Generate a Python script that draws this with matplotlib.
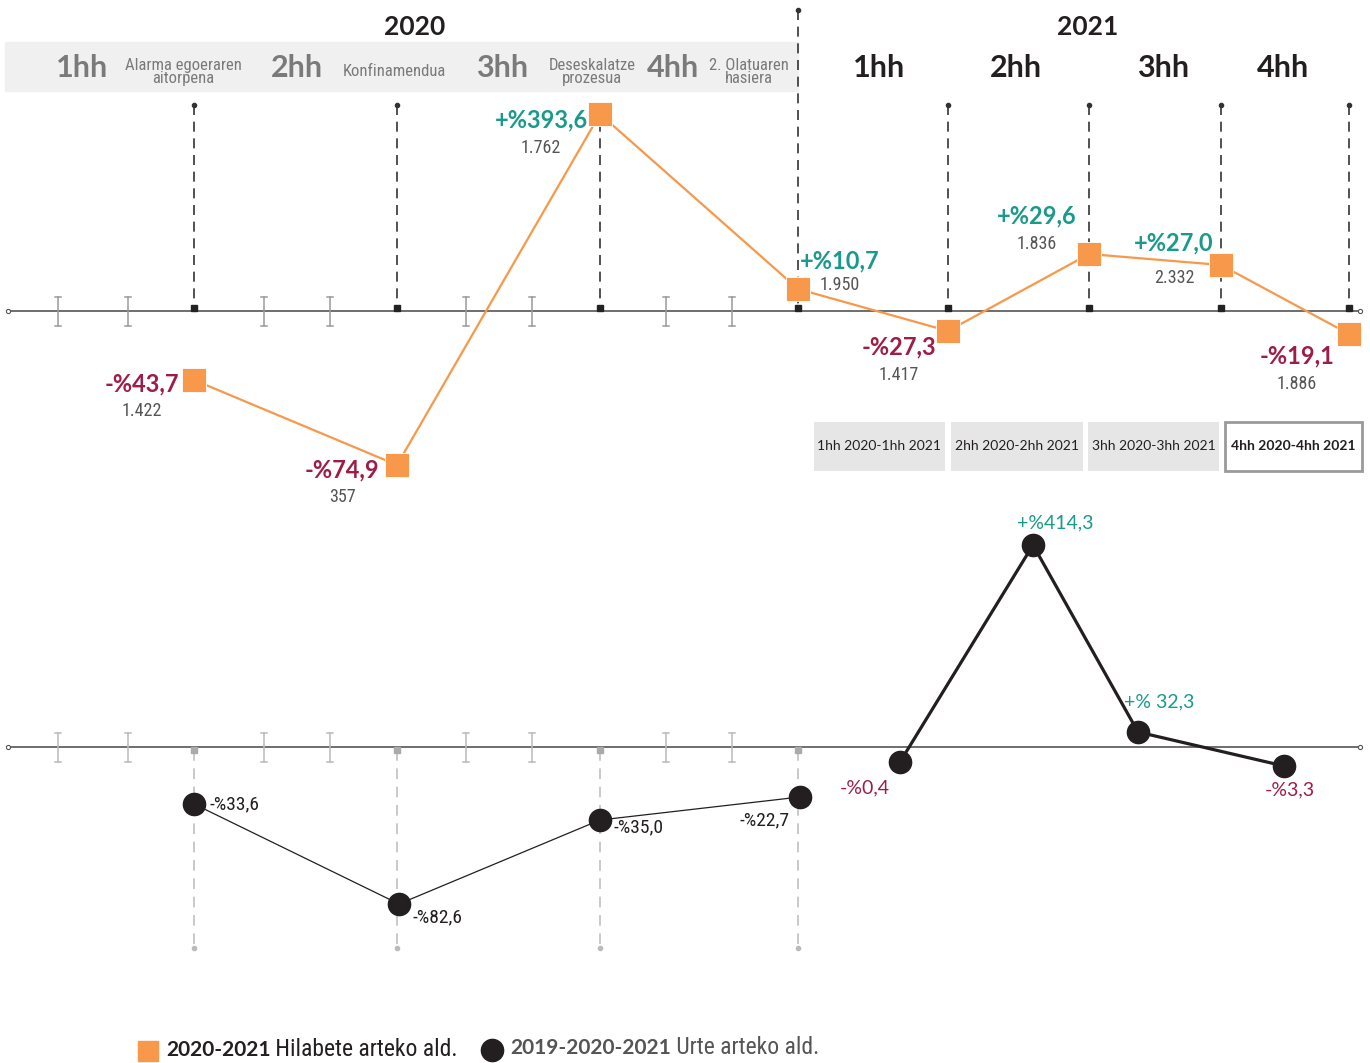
import matplotlib
matplotlib.use("Agg")
import matplotlib.pyplot as plt
from matplotlib.patches import Rectangle

# --- data -------------------------------------------------------------------
quarters = ["1hh", "2hh", "3hh", "4hh", "1hh", "2hh", "3hh", "4hh"]
events_2020 = ["Alarma egoeraren\naitorpena", "Konfinamendua",
               "Deseskalatze\nprozesua", "2. Olatuaren\nhasiera"]
yoy_boxes = ["1hh 2020-1hh 2021", "2hh 2020-2hh 2021",
             "3hh 2020-3hh 2021", "4hh 2020-4hh 2021"]

# quarter-on-quarter change (orange) and counts
qoq_pct = [-43.7, -74.9, 393.6, 10.7, -27.3, 29.6, 27.0, -19.1]
qoq_count = ["1.422", "357", "1.762", "1.950", "1.417", "1.836", "2.332", "1.886"]
# marker height above the baseline as drawn in the (schematic) original
qoq_level = [-69, -154, 197, 22, -20, 57, 46, -23]

# year-on-year change (black)
yoy_pct = [-33.6, -82.6, -35.0, -22.7, -0.4, 414.3, 32.3, -3.3]
yoy_level = [-57, -157, -73, -50, -15, 202, 15, -19]

# --- layout -----------------------------------------------------------------
W, H = 1370, 1063
QOQ_X = [194, 397, 600, 798, 948, 1089, 1221, 1349]
YOY_X = [194, 399, 600, 800, 900, 1033, 1138, 1284]
BASE1, BASE2 = 311, 747
TICK_X = [58, 128, 264, 330, 466, 532, 666, 732]
HH_X = [82, 297, 502, 673, 879, 1016, 1163, 1283]
EV_X = [183, 394, 592, 749]
BOX_X = [(814, 945), (951, 1083), (1088, 1219), (1225, 1362)]
# label offsets: (dx, dy) of the % label centre, dy of the count label
QOQ_OFF = [(-52, 4, 31), (-55, 5, 32), (-59, 6, 34), (42, -28, -4),
           (-49, 16, 44), (-52, -38, -10), (-47, -22, 13), (-52, 22, 50)]
YOY_OFF = [(16, 0, "left"), (14, 13, "left"), (14, 7, "left"), (-35, 23, "center"),
           (-35, 26, "center"), (22, -22, "center"), (21, -30, "center"), (6, 24, "center")]

ORANGE, TEAL, RED = "#F7984A", "#1A9A8B", "#9E1D46"
DARK, GRAY = "#231F20", "#7A7A7A"
BOLD = ["Lato", "DejaVu Sans"]
NARROW = ["Roboto Condensed", "Roboto", "DejaVu Sans"]

fig = plt.figure(figsize=(W / 100, H / 100), dpi=100)
ax = fig.add_axes([0, 0, 1, 1])
ax.set_xlim(0, W); ax.set_ylim(H, 0); ax.axis("off")


def pct(p, gap=""):
    return f"{'+' if p > 0 else '-'}%{gap}{abs(p):.1f}".replace(".", ",")


# header
ax.add_patch(Rectangle((5, 42), 793, 49, color="#F0F0F0", zorder=0))
for x, yr in [(415, "2020"), (1088, "2021")]:
    ax.text(x, 27, yr, ha="center", va="center", fontsize=19, fontweight="bold",
            family=BOLD, color=DARK)
for i, (x, q) in enumerate(zip(HH_X, quarters)):
    ax.text(x, 68, q, ha="center", va="center", fontsize=22, fontweight="bold",
            family=BOLD, color=GRAY if i < 4 else DARK)
for x, ev in zip(EV_X, events_2020):
    ax.text(x, 72, ev, ha="center", va="center", fontsize=12, family=NARROW,
            fontstretch="condensed", color=GRAY, linespacing=0.85)

# upper baseline, dashed guides, ticks
ax.plot([8, 1360], [BASE1, BASE1], color="#555555", lw=1.2, zorder=1)
ax.plot([8, 1360], [BASE1, BASE1], ls="none", marker="o", ms=3, mfc="white",
        mec="#555555", mew=0.8, zorder=2)
for x in QOQ_X:
    top = 10 if x == 798 else 105
    ax.plot([x, x], [top, BASE1], color="#333333", lw=1.2, ls=(0, (6, 4)), zorder=1)
    ax.plot(x, top, marker="o", ms=3, color="#333333", zorder=2)
    ax.plot(x, BASE1 - 3, marker="s", ms=4, color="#222222", zorder=2)
for x in TICK_X:
    ax.plot([x, x], [BASE1 - 14, BASE1 + 15], color="#9A9A9A", lw=1.1, zorder=1)
    for yy in (BASE1 - 14, BASE1 + 15):
        ax.plot([x - 3, x + 3], [yy, yy], color="#9A9A9A", lw=1.1, zorder=1)

# orange line
qy = [BASE1 - v for v in qoq_level]
ax.plot(QOQ_X, qy, color=ORANGE, lw=1.6, marker="s", ms=17, mfc=ORANGE,
        mec="white", mew=0.6, zorder=4)
for x, y, p, c, (dx, dy, dc) in zip(QOQ_X, qy, qoq_pct, qoq_count, QOQ_OFF):
    ax.text(x + dx, y + dy, pct(p), ha="center", va="center", fontsize=17,
            fontweight="bold", family=BOLD, color=TEAL if p > 0 else RED, zorder=5)
    ax.text(x + dx, y + dc, c, ha="center", va="center", fontsize=13,
            family=NARROW, fontstretch="condensed", color="#555555", zorder=5)

# comparison boxes
for i, ((x0, x1), lab) in enumerate(zip(BOX_X, yoy_boxes)):
    last = i == len(BOX_X) - 1
    ax.add_patch(Rectangle((x0, 422), x1 - x0, 49, facecolor="white" if last else "#E6E6E6",
                           edgecolor="#9A9A9A" if last else "none", lw=2, zorder=1))
    ax.text((x0 + x1) / 2, 446, lab, ha="center", va="center", fontsize=10,
            family=BOLD, fontweight="bold" if last else "normal", color=DARK)

# lower baseline
ax.plot([8, 1360], [BASE2, BASE2], color="#555555", lw=1.2, zorder=1)
ax.plot([8, 1360], [BASE2, BASE2], ls="none", marker="o", ms=3, mfc="white",
        mec="#555555", mew=0.8, zorder=2)
for x in QOQ_X[:4]:
    ax.plot([x, x], [BASE2 + 3, 948], color="#BBBBBB", lw=1.1, ls=(0, (7, 5)), zorder=1)
    ax.plot(x, 948, marker="o", ms=3, color="#BBBBBB", zorder=2)
    ax.plot(x, BASE2 + 3, marker="s", ms=4, color="#AAAAAA", zorder=2)
for x in TICK_X:
    ax.plot([x, x], [BASE2 - 14, BASE2 + 15], color="#BBBBBB", lw=1.1, zorder=1)
    for yy in (BASE2 - 14, BASE2 + 15):
        ax.plot([x - 3, x + 3], [yy, yy], color="#BBBBBB", lw=1.1, zorder=1)

# black line (2020 and 2021 drawn as separate segments)
by = [BASE2 - v for v in yoy_level]
ax.plot(YOY_X[:4], by[:4], color=DARK, lw=0.9, zorder=3)
ax.plot(YOY_X[4:], by[4:], color=DARK, lw=2.3, zorder=3)
ax.plot(YOY_X, by, ls="none", marker="o", ms=16, color=DARK, zorder=4)
for i, (x, y, p, (dx, dy, ha)) in enumerate(zip(YOY_X, by, yoy_pct, YOY_OFF)):
    if i < 4:
        ax.text(x + dx, y + dy, pct(p), ha=ha, va="center", fontsize=14, family=NARROW,
                fontstretch="condensed", color=DARK, zorder=5)
    else:
        ax.text(x + dx, y + dy, pct(p, " " if i == 6 else ""), ha=ha, va="center",
                fontsize=14, family=BOLD, color=TEAL if p > 0 else RED, zorder=5)

# legend
ax.plot(148, 1051, marker="s", ms=15, color=ORANGE, clip_on=False)
t1 = ax.text(166, 1050, "2020-2021", ha="left", va="center", fontsize=15,
             fontweight="bold", family=BOLD, color=DARK)
ax.annotate(" Hilabete arteko ald.", xy=(1, 0.5), xycoords=t1, va="center", ha="left",
            fontsize=17, family=NARROW, fontstretch="condensed", color=DARK)
ax.plot(492, 1050, marker="o", ms=16, color=DARK, clip_on=False)
t2 = ax.text(510, 1048, "2019-2020-2021", ha="left", va="center", fontsize=15,
             fontweight="bold", family=BOLD, color="#555555")
ax.annotate(" Urte arteko ald.", xy=(1, 0.5), xycoords=t2, va="center", ha="left",
            fontsize=17, family=NARROW, fontstretch="condensed", color="#555555")

fig.savefig("out.png", dpi=100)
